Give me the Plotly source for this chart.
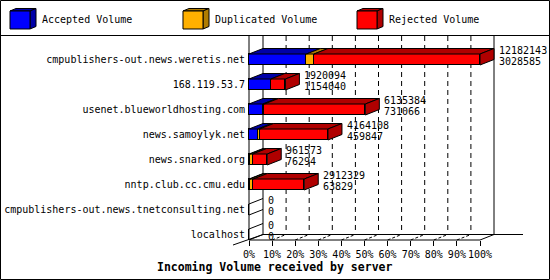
import plotly.graph_objects as go

# ---------------- data ----------------
servers = [
    "cmpublishers-out.news.weretis.net",
    "168.119.53.7",
    "usenet.blueworldhosting.com",
    "news.samoylyk.net",
    "news.snarked.org",
    "nntp.club.cc.cmu.edu",
    "cmpublishers-out.news.tnetconsulting.net",
    "localhost",
]
total_volume = [12182143, 1920094, 6135384, 4164108, 961573, 2912329, 0, 0]
accepted_volume = [3028585, 1154040, 731066, 459847, 76294, 63829, 0, 0]
duplicated_volume = [400000, 0, 80000, 100000, 120000, 160000, 0, 0]
series_names = ["Accepted Volume", "Duplicated Volume", "Rejected Volume"]
tick_values = [0, 10, 20, 30, 40, 50, 60, 70, 80, 90, 100]
tick_labels = ["0%", "10%", "20%", "30%", "40%", "50%", "60%", "70%", "80%", "90%", "100%"]
chart_title = "Incoming Volume received by server"

rejected_volume = [t - a - d for t, a, d in zip(total_volume, accepted_volume, duplicated_volume)]
series_values = [accepted_volume, duplicated_volume, rejected_volume]

# ---------------- style / geometry ----------------
W, H = 550, 280
FONT = "DejaVu Sans Mono"
front_colors = ["#0000ff", "#ffb000", "#ff0000"]
dark_colors = ["#0000a8", "#b07c00", "#b00000"]

X0_PX = 249.0        # pixel of 0 %
PX_PER_PCT = 2.31    # pixels per percent
Y0_PX = 59.5         # pixel of first row centre
ROW_PX = 25.0        # pixels per row
DEPTH_X_PX, DEPTH_Y_PX, HALF_PX = 14.0, 5.5, 5.5

DX = DEPTH_X_PX / PX_PER_PCT
DY = DEPTH_Y_PX / ROW_PX
HB = HALF_PX / ROW_PX

def py2y(py):
    return (py - Y0_PX) / ROW_PX

def px2x(px):
    return (px - X0_PX) / PX_PER_PCT

n = len(servers)
rows = list(range(n))
max_total = max(total_volume)
pct = [[v / max_total * 100 for v in s] for s in series_values]
total_pct = [t / max_total * 100 for t in total_volume]

fig = go.Figure()

# front faces
for k in range(3):
    fig.add_trace(go.Bar(
        y=rows, x=pct[k], orientation="h", width=2 * HB,
        marker=dict(color=front_colors[k], line=dict(color="black", width=1)),
        showlegend=False, hoverinfo="skip", name=series_names[k],
    ))

# top faces and side faces
for k in range(3):
    xs, ys = [], []
    sx, sy = [], []
    for i in rows:
        if total_volume[i] <= 0:
            continue
        x0 = sum(pct[j][i] for j in range(k))
        x1 = x0 + pct[k][i]
        t = i - HB
        b = i + HB
        if pct[k][i] > 0:
            xs += [x0, x1, x1 + DX, x0 + DX, x0, None]
            ys += [t, t, t - DY, t - DY, t, None]
        last = max(j for j in range(3) if pct[j][i] > 0)
        if last == k:
            xe = total_pct[i]
            sx += [xe, xe + DX, xe + DX, xe, xe, None]
            sy += [t, t - DY, b - DY, b, t, None]
    for X, Y in ((xs, ys), (sx, sy)):
        if X:
            fig.add_trace(go.Scatter(
                x=X, y=Y, mode="lines", fill="toself", fillcolor=dark_colors[k],
                line=dict(color="black", width=1), showlegend=False, hoverinfo="skip",
            ))

# zero-volume rows: only depth edges
zx, zy = [], []
for i in rows:
    if total_volume[i] == 0:
        for e in (i - HB, i + HB):
            zx += [0, DX, None]
            zy += [e, e - DY, None]
fig.add_trace(go.Scatter(x=zx, y=zy, mode="lines", line=dict(color="black", width=1),
                         showlegend=False, hoverinfo="skip"))

# value labels
ann = []
for i in rows:
    xl = total_pct[i] + DX + 3 / PX_PER_PCT
    y1 = i - HB - DY + 2 / ROW_PX
    for txt, yy in ((str(total_volume[i]), y1), (str(accepted_volume[i]), y1 + 10.5 / ROW_PX)):
        ann.append(dict(x=xl, y=yy, xref="x", yref="y", text=txt, showarrow=False,
                        xanchor="left", yanchor="middle",
                        font=dict(family=FONT, size=10, color="black")))

# ---------------- 3D frame ----------------
y_top = py2y(36)
y_front = (n - 1) + HB
y_back = y_front - DY
shapes = []
L = dict(color="black", width=1)
shapes.append(dict(type="line", x0=0, x1=0, y0=y_top, y1=y_front, line=L, layer="below"))
shapes.append(dict(type="line", x0=DX, x1=DX, y0=y_top, y1=y_back, line=L, layer="below"))
shapes.append(dict(type="line", x0=100 + DX, x1=100 + DX, y0=y_top, y1=y_back, line=L, layer="below"))
shapes.append(dict(type="line", x0=DX, x1=px2x(523), y0=y_back, y1=y_back, line=L, layer="below"))
shapes.append(dict(type="line", x0=0, x1=100, y0=y_front, y1=y_front, line=L, layer="below"))
shapes.append(dict(type="line", x0=100, x1=100 + DX, y0=y_front, y1=y_back, line=L, layer="below"))
shapes.append(dict(type="line", x0=-16 / PX_PER_PCT, x1=DX, y0=y_front + 5 / ROW_PX, y1=y_back,
                   line=L, layer="below"))
for v in tick_values[1:-1]:
    shapes.append(dict(type="line", x0=v + DX, x1=v + DX, y0=y_top, y1=y_back,
                       line=dict(color="black", width=1, dash="5px,4px"), layer="below"))
    shapes.append(dict(type="line", x0=v, x1=v + DX, y0=y_front, y1=y_back,
                       line=dict(color="black", width=1, dash="3px,2px"), layer="below"))

# ---------------- legend, border, title ----------------
def P(px, py):
    return px / W, 1 - py / H

legend_px = [10, 183, 357]
for k, lx in enumerate(legend_px):
    fx0, fx1, fy0, fy1 = lx, lx + 20, 11, 29
    ddx, ddy = 6, 2.5
    def pth(pts):
        return "M " + " L ".join("%f,%f" % P(a, b) for a, b in pts) + " Z"
    shapes.append(dict(type="path", xref="paper", yref="paper",
                       path=pth([(fx0, fy0), (fx1, fy0), (fx1 + ddx, fy0 - ddy), (fx0 + ddx, fy0 - ddy)]),
                       fillcolor=dark_colors[k], line=L))
    shapes.append(dict(type="path", xref="paper", yref="paper",
                       path=pth([(fx1, fy0), (fx1 + ddx, fy0 - ddy), (fx1 + ddx, fy1 - ddy), (fx1, fy1)]),
                       fillcolor=dark_colors[k], line=L))
    shapes.append(dict(type="path", xref="paper", yref="paper",
                       path=pth([(fx0, fy0), (fx1, fy0), (fx1, fy1), (fx0, fy1)]),
                       fillcolor=front_colors[k], line=L))
    tx, ty = P(fx1 + 10, 20)
    ann.append(dict(x=tx, y=ty, xref="paper", yref="paper", text=series_names[k],
                    showarrow=False, xanchor="left", yanchor="middle",
                    font=dict(family=FONT, size=10, color="black")))

sx0, sy0 = P(0, 35.5)
shapes.append(dict(type="line", xref="paper", yref="paper", x0=0, x1=1, y0=sy0, y1=sy0, line=L))
shapes.append(dict(type="rect", xref="paper", yref="paper",
                   x0=0.5 / W, x1=1 - 0.5 / W, y0=0.5 / H, y1=1 - 0.5 / H, line=L))

tx, ty = P(274, 267)
ann.append(dict(x=tx, y=ty, xref="paper", yref="paper", text="<b>" + chart_title + "</b>",
                showarrow=False, xanchor="center", yanchor="middle",
                font=dict(family=FONT, size=11.5, color="black")))

fig.update_layout(
    width=W, height=H, margin=dict(l=0, r=0, t=0, b=0),
    paper_bgcolor="white", plot_bgcolor="white",
    barmode="stack", bargap=0,
    font=dict(family=FONT, size=10, color="black"),
    shapes=shapes, annotations=ann, showlegend=False,
    xaxis=dict(range=[px2x(0), px2x(W)], tickvals=tick_values, ticktext=tick_labels,
               anchor="free", position=1 - 240 / H, ticks="outside", ticklen=5,
               tickcolor="black", tickwidth=1, showgrid=False, zeroline=False, showline=False,
               tickfont=dict(family=FONT, size=10, color="black"), fixedrange=True),
    yaxis=dict(range=[py2y(H), py2y(0)], tickvals=rows, ticktext=servers,
               anchor="free", position=X0_PX / W, ticks="", ticklabelstandoff=4,
               showgrid=False, zeroline=False,
               showline=False, tickfont=dict(family=FONT, size=10, color="black"), fixedrange=True),
)

fig.write_html("out.html")
